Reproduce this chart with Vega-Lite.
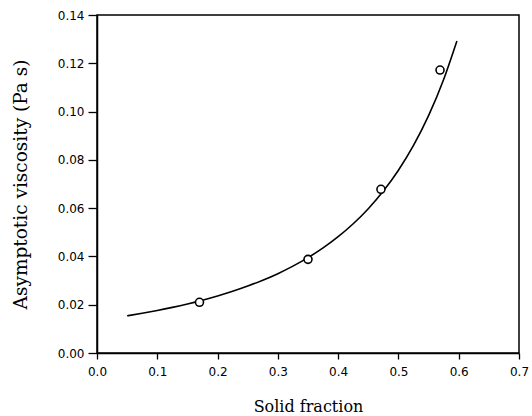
{
  "$schema": "https://vega.github.io/schema/vega-lite/v6.json",
  "width": 422,
  "height": 338,
  "autosize": {"type": "none"},
  "padding": {"left": 97, "top": 15, "right": 13, "bottom": 63},
  "background": "white",
  "config": {
    "view": {"stroke": "black", "strokeWidth": 1.5},
    "axis": {
      "domainColor": "black",
      "domainWidth": 1.5,
      "tickColor": "black",
      "tickWidth": 1.3,
      "grid": false,
      "labelFont": "DejaVu Sans",
      "labelFontSize": 12,
      "labelColor": "black",
      "labelOverlap": false,
      "labelFlush": false,
      "titleFont": "DejaVu Serif",
      "titleFontWeight": "normal",
      "titleColor": "black"
    }
  },
  "layer": [
    {
      "data": {"values": [
        {"phi": 0.050, "visc": 0.01541},
        {"phi": 0.075, "visc": 0.01646},
        {"phi": 0.100, "visc": 0.01762},
        {"phi": 0.125, "visc": 0.01890},
        {"phi": 0.150, "visc": 0.02031},
        {"phi": 0.175, "visc": 0.02187},
        {"phi": 0.200, "visc": 0.02360},
        {"phi": 0.225, "visc": 0.02553},
        {"phi": 0.250, "visc": 0.02770},
        {"phi": 0.275, "visc": 0.03013},
        {"phi": 0.300, "visc": 0.03286},
        {"phi": 0.325, "visc": 0.03597},
        {"phi": 0.350, "visc": 0.03950},
        {"phi": 0.375, "visc": 0.04353},
        {"phi": 0.400, "visc": 0.04817},
        {"phi": 0.425, "visc": 0.05353},
        {"phi": 0.450, "visc": 0.05977},
        {"phi": 0.475, "visc": 0.06708},
        {"phi": 0.500, "visc": 0.07571},
        {"phi": 0.525, "visc": 0.08598},
        {"phi": 0.550, "visc": 0.09831},
        {"phi": 0.575, "visc": 0.11330},
        {"phi": 0.597, "visc": 0.12925}
      ]},
      "mark": {"type": "line", "color": "black", "strokeWidth": 1.6, "interpolate": "monotone"},
      "encoding": {
        "x": {
          "field": "phi", "type": "quantitative",
          "scale": {"domain": [0, 0.7], "nice": false},
          "axis": {
            "values": [0, 0.05, 0.1, 0.15, 0.2, 0.25, 0.3, 0.35, 0.4, 0.45, 0.5, 0.55, 0.6, 0.65, 0.7],
            "labelExpr": "round(datum.value*20) % 2 == 1 ? '' : format(datum.value, '.1f')",
            "tickSize": {"condition": {"test": "round(datum.value*20) % 2 == 1", "value": 3}, "value": 6},
            "labelPadding": 7,
            "title": "Solid fraction",
            "titleFontSize": 16,
            "titlePadding": 21
          }
        },
        "y": {
          "field": "visc", "type": "quantitative",
          "scale": {"domain": [0, 0.14], "nice": false},
          "axis": {
            "values": [0, 0.01, 0.02, 0.03, 0.04, 0.05, 0.06, 0.07, 0.08, 0.09, 0.1, 0.11, 0.12, 0.13, 0.14],
            "labelExpr": "round(datum.value*100) % 2 == 1 ? '' : format(datum.value, '.2f')",
            "tickSize": {"condition": {"test": "round(datum.value*100) % 2 == 1", "value": 4}, "value": 9},
            "labelPadding": 4,
            "title": "Asymptotic viscosity (Pa s)",
            "titleFontSize": 18.5,
            "titlePadding": 27
          }
        }
      }
    },
    {
      "data": {"values": [
        {"phi": 0.170, "visc": 0.0210},
        {"phi": 0.350, "visc": 0.0388},
        {"phi": 0.471, "visc": 0.0678},
        {"phi": 0.569, "visc": 0.1172}
      ]},
      "mark": {"type": "point", "shape": "circle", "size": 64, "filled": false, "stroke": "black", "strokeWidth": 1.6, "fill": "white", "fillOpacity": 1, "opacity": 1},
      "encoding": {
        "x": {"field": "phi", "type": "quantitative"},
        "y": {"field": "visc", "type": "quantitative"}
      }
    }
  ]
}
